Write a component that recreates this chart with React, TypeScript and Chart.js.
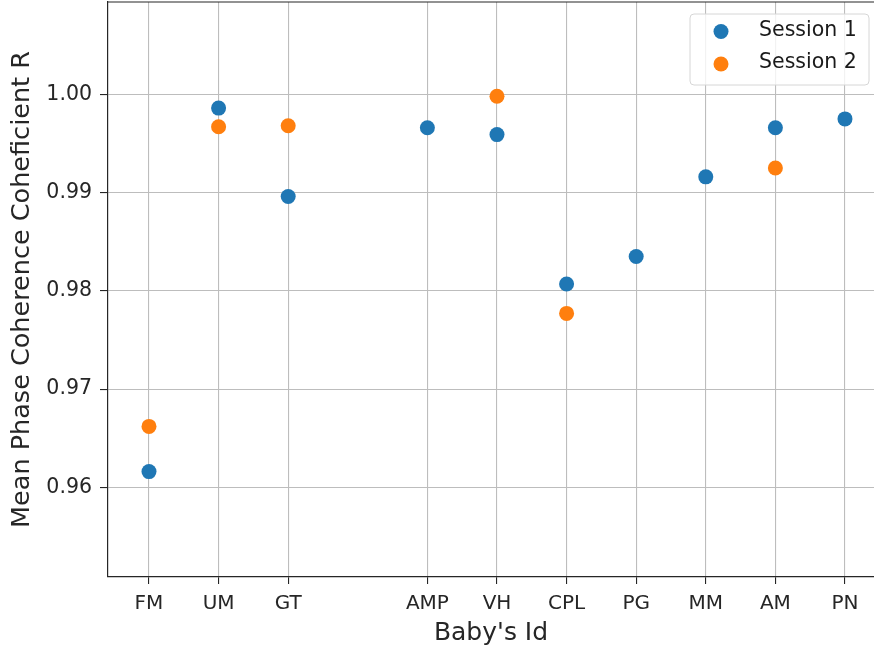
import React, { useEffect, useRef } from "react";
import { Chart, registerables } from "chart.js";

Chart.register(...registerables);

// Baby identifiers and their positions on the x axis (slot 3 is unused)
const babyIds = ["FM", "UM", "GT", "AMP", "VH", "CPL", "PG", "MM", "AM", "PN"];
const idPositions = [0, 1, 2, 4, 5, 6, 7, 8, 9, 10];

// Mean phase coherence coefficient R per baby and session (null = not recorded)
const session1 = [0.9616, 0.9986, 0.9896, 0.9966, 0.9959, 0.9807, 0.9835, 0.9916, 0.9966, 0.9975];
const session2 = [0.9662, 0.9967, 0.9968, null, 0.9998, 0.9777, null, null, 0.9925, null];

const yTicks = [0.96, 0.97, 0.98, 0.99, 1.0];

const BLUE = "#1f77b4";
const ORANGE = "#ff7f0e";
const FONT = "'DejaVu Sans', sans-serif";

const toPoints = (vals: (number | null)[]) =>
  vals
    .map((v, i) => (v === null ? null : { x: idPositions[i], y: v }))
    .filter((p) => p !== null) as { x: number; y: number }[];

// Top spine plus a matplotlib-like legend box in the upper right of the plot
const framePlugin = {
  id: "frameAndLegend",
  afterDraw(chart: any) {
    const { ctx, chartArea } = chart;
    ctx.save();
    ctx.strokeStyle = "#262626";
    ctx.lineWidth = 1.2;
    ctx.beginPath();
    ctx.moveTo(chartArea.left, chartArea.top);
    ctx.lineTo(chartArea.right, chartArea.top);
    ctx.stroke();

    const bx = chartArea.right - 184;
    const by = chartArea.top + 12;
    const bw = 179;
    const bh = 71;
    ctx.beginPath();
    ctx.roundRect(bx, by, bw, bh, 4);
    ctx.fillStyle = "rgba(255,255,255,0.8)";
    ctx.fill();
    ctx.strokeStyle = "#d6d6d6";
    ctx.lineWidth = 1;
    ctx.stroke();

    chart.data.datasets.forEach((ds: any, i: number) => {
      const cy = by + 17.5 + i * 32.5;
      ctx.beginPath();
      ctx.arc(bx + 31, cy, 7.5, 0, Math.PI * 2);
      ctx.fillStyle = ds.backgroundColor;
      ctx.fill();
      ctx.fillStyle = "#1a1a1a";
      ctx.font = `20.5px ${FONT}`;
      ctx.textBaseline = "middle";
      ctx.textAlign = "left";
      ctx.fillText(ds.label, bx + 69, cy - 1);
    });
    ctx.restore();
  },
};

export default function App() {
  const canvasRef = useRef<HTMLCanvasElement | null>(null);

  useEffect(() => {
    if (!canvasRef.current) return;
    const chart = new Chart(canvasRef.current, {
      type: "scatter",
      data: {
        datasets: [
          {
            label: "Session 1",
            data: toPoints(session1),
            backgroundColor: BLUE,
            borderColor: BLUE,
            pointRadius: 7.5,
            pointBorderWidth: 0,
          },
          {
            label: "Session 2",
            data: toPoints(session2),
            backgroundColor: ORANGE,
            borderColor: ORANGE,
            pointRadius: 7.5,
            pointBorderWidth: 0,
          },
        ],
      },
      plugins: [framePlugin],
      options: {
        responsive: false,
        animation: false,
        layout: { autoPadding: false, padding: { top: 2, left: 0, right: 0, bottom: 0 } },
        plugins: {
          legend: { display: false },
          tooltip: { enabled: false },
        },
        scales: {
          x: {
            type: "linear",
            min: -0.589,
            max: 10.417,
            afterBuildTicks: (scale: any) => {
              scale.ticks = idPositions.map((v) => ({ value: v }));
            },
            afterFit: (scale: any) => {
              scale.height = 73;
              scale.paddingLeft = 0;
              scale.paddingRight = 0;
            },
            ticks: {
              autoSkip: false,
              maxRotation: 0,
              padding: 8,
              color: "#262626",
              font: { family: FONT, size: 20 },
              callback: (value: any) => {
                const idx = idPositions.indexOf(Number(value));
                return idx >= 0 ? babyIds[idx] : "";
              },
            },
            grid: {
              color: "#bdbdbd",
              lineWidth: 1.1,
              tickLength: 7,
              tickColor: "#262626",
            },
            border: { display: true, color: "#262626", width: 1.2 },
            title: {
              display: true,
              text: "Baby's Id",
              color: "#262626",
              font: { family: FONT, size: 25 },
              padding: { top: 0, bottom: 2 },
            },
          },
          y: {
            type: "linear",
            min: 0.95087,
            max: 1.0094,
            afterBuildTicks: (scale: any) => {
              scale.ticks = yTicks.map((v) => ({ value: v }));
            },
            afterFit: (scale: any) => {
              scale.width = 108;
              scale.paddingTop = 0;
              scale.paddingBottom = 0;
            },
            ticks: {
              padding: 8,
              color: "#262626",
              font: { family: FONT, size: 20.5 },
              callback: (value: any) => Number(value).toFixed(2),
            },
            grid: {
              color: "#bdbdbd",
              lineWidth: 1.1,
              tickLength: 8,
              tickColor: "#262626",
            },
            border: { display: true, color: "#262626", width: 1.2 },
            title: {
              display: true,
              text: "Mean Phase Coherence Coheficient R",
              color: "#262626",
              font: { family: FONT, size: 25.5 },
              padding: { top: 7, bottom: 0 },
            },
          },
        },
      },
    } as any);
    return () => chart.destroy();
  }, []);

  return (
    <div style={{ position: "fixed", left: 0, top: 0, width: 874, height: 650, background: "#fff" }}>
      <canvas ref={canvasRef} width={874} height={650} />
    </div>
  );
}
